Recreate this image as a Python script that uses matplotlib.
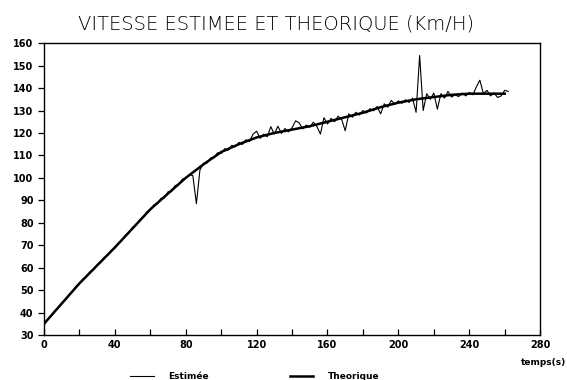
import numpy as np
import matplotlib
matplotlib.use("Agg")
import matplotlib.pyplot as plt
from matplotlib.ticker import MultipleLocator

# ==== Daten ====
t_theo = [0, 10, 20, 30, 40, 50, 60, 70, 80, 90, 100, 110, 120, 130,
          140, 150, 160, 170, 180, 190, 200, 210, 220, 230, 240, 250, 260]
v_theo = [35, 44, 53, 61, 69, 77.5, 86, 93, 100, 106, 111.5, 115, 118, 120,
          121.5, 123, 125, 127, 129, 131.5, 133.5, 135, 136, 137, 137.5, 137.5, 137.5]

t_est = list(range(0, 264, 2))
v_est = [34.5, 37.0, 38.4, 40.8, 42.0, 44.3, 45.5, 48.0, 49.2, 51.6,
         52.8, 54.9, 56.0, 58.2, 59.1, 61.3, 62.4, 64.6, 65.5, 67.8,
         68.7, 71.0, 72.1, 74.5, 75.5, 78.0, 78.9, 81.3, 82.3, 84.8,
         85.6, 88.0, 88.4, 90.9, 91.0, 93.8, 93.9, 96.6, 96.8, 99.4,
         99.8, 101.5, 101.0, 88.5, 103.5, 106.5, 106.6, 108.9, 109.0, 111.2,
         110.8, 113.0, 112.3, 114.5, 113.8, 115.8, 114.9, 117.0, 116.2, 119.5,
         120.8, 117.6, 119.5, 118.3, 122.8, 119.5, 123.0, 119.8, 122.0, 120.5,
         122.3, 125.4, 124.5, 121.8, 123.5, 122.6, 124.8, 122.9, 119.5, 126.8,
         124.0, 126.5, 125.0, 127.5, 126.0, 121.0, 128.5, 127.0, 129.2, 128.0,
         130.0, 128.9, 130.8, 129.9, 131.8, 128.5, 133.0, 131.5, 134.5, 132.8,
         134.3, 133.2, 134.8, 133.6, 135.5, 129.2, 154.5, 130.0, 137.5, 135.0,
         137.8, 130.6, 137.5, 135.5, 138.5, 136.0, 137.0, 136.2, 137.8, 136.5,
         138.0, 137.0, 140.5, 143.5, 137.5, 139.0, 136.5, 137.8, 135.8, 136.5,
         139.0, 138.5]

x_ticks = [0, 40, 80, 120, 160, 200, 240, 280]
y_ticks = list(range(30, 170, 10))

fig = plt.figure(figsize=(5.67, 3.8), dpi=100)
ax = fig.add_axes([0.0776, 0.1184, 0.875, 0.768])

ax.plot(t_est, v_est, color="black", lw=0.8, label="Estimée")
ax.plot(t_theo, v_theo, color="black", lw=1.8, label="Theorique")

ax.set_xlim(0, 280)
ax.set_ylim(30, 160)
ax.set_xticks(x_ticks)
ax.xaxis.set_minor_locator(MultipleLocator(20))
ax.set_yticks(y_ticks)
ax.tick_params(axis="both", labelsize=7, width=0.9, colors="black")
ax.tick_params(axis="x", direction="in", length=4)
ax.tick_params(axis="x", which="minor", direction="in", length=4, width=0.9)
ax.tick_params(axis="y", direction="out", length=4)
for lab in ax.get_xticklabels() + ax.get_yticklabels():
    lab.set_fontweight("bold")
for s in ax.spines.values():
    s.set_linewidth(1.0)

fig.text(0.487, 0.937, "VITESSE ESTIMEE ET THEORIQUE (Km/H)", ha="center", va="center",
         fontsize=14, fontweight="light")
fig.text(0.999, 0.045 + 0.0, "temps(s)", ha="right", va="center", fontsize=6.5,
         fontweight="bold", transform=fig.transFigure)

fig.legend(loc="lower left", bbox_to_anchor=(0.215, -0.025), ncol=2, frameon=False,
           fontsize=6.5, handlelength=2.6, columnspacing=9.0, handletextpad=1.6,
           prop={"weight": "bold", "size": 6.5})

fig.savefig("out.png", dpi=100)
